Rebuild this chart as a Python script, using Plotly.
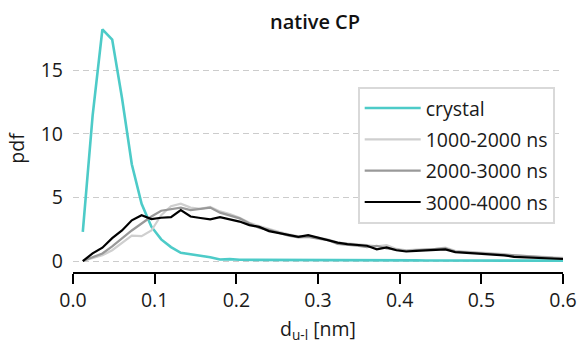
import plotly.graph_objects as go

# Bin positions of the distance histogram (nm)
d_ul = [round(0.012 * k, 3) for k in range(1, 51)]

crystal = [2.3, 11.4, 18.2, 17.4, 12.8, 7.6, 4.5, 2.7, 1.7, 1.1,
           0.65, 0.55, 0.45, 0.3, 0.12, 0.15, 0.1, 0.1, 0.09, 0.08,
           0.08, 0.08, 0.07, 0.07, 0.07, 0.06, 0.06, 0.06, 0.06, 0.05,
           0.05, 0.05, 0.05, 0.05, 0.05, 0.04, 0.04, 0.04, 0.04, 0.04,
           0.04, 0.04, 0.04, 0.03, 0.03, 0.03, 0.03, 0.03, 0.03, 0.03]

ns_1000_2000 = [0.0, 0.2, 0.45, 0.85, 1.4, 2.0, 1.95, 2.4, 3.6, 4.3,
                4.5, 4.2, 4.1, 4.25, 3.9, 3.7, 3.4, 3.0, 2.75, 2.5,
                2.3, 2.1, 1.95, 1.95, 1.8, 1.7, 1.45, 1.4, 1.3, 1.25,
                1.15, 1.25, 0.95, 0.85, 0.9, 0.9, 0.95, 1.05, 0.8, 0.75,
                0.7, 0.65, 0.65, 0.55, 0.45, 0.4, 0.35, 0.3, 0.28, 0.25]

ns_2000_3000 = [0.0, 0.3, 0.6, 1.15, 1.8, 2.4, 2.95, 3.5, 3.95, 4.1,
                4.2, 4.0, 4.1, 4.2, 3.8, 3.6, 3.35, 2.95, 2.6, 2.45,
                2.2, 2.0, 1.85, 1.9, 1.75, 1.65, 1.35, 1.3, 1.2, 1.1,
                1.2, 1.0, 0.9, 0.8, 0.85, 0.9, 0.95, 1.0, 0.75, 0.7,
                0.65, 0.6, 0.55, 0.5, 0.4, 0.35, 0.3, 0.27, 0.25, 0.22]

ns_3000_4000 = [0.0, 0.6, 1.05, 1.8, 2.4, 3.2, 3.6, 3.3, 3.4, 3.45,
                4.0, 3.5, 3.38, 3.27, 3.45, 3.3, 3.1, 2.82, 2.68, 2.35,
                2.2, 2.05, 1.9, 2.04, 1.84, 1.63, 1.45, 1.33, 1.28, 1.2,
                0.92, 1.07, 0.85, 0.75, 0.8, 0.85, 0.9, 0.92, 0.7, 0.66,
                0.6, 0.56, 0.53, 0.45, 0.33, 0.3, 0.25, 0.21, 0.18, 0.16]

series = [
    ("crystal", crystal, "#4dcbc8", 2.6),
    ("1000-2000 ns", ns_1000_2000, "#cfcfcf", 2.2),
    ("2000-3000 ns", ns_2000_3000, "#999999", 2.2),
    ("3000-4000 ns", ns_3000_4000, "#000000", 2.2),
]

x_ticks = [0.0, 0.1, 0.2, 0.3, 0.4, 0.5, 0.6]
y_ticks = [0, 5, 10, 15]

FONT = "Open Sans"
SIZE = 19.5

fig = go.Figure()
for i, (name, vals, color, width) in enumerate(series):
    fig.add_trace(go.Scatter(
        x=d_ul, y=vals, mode="lines", name=name,
        legendgroup=f"g{i}",
        line=dict(color=color, width=width),
    ))

fig.update_layout(
    width=578, height=344,
    margin=dict(l=73, r=15, t=25, b=72, autoexpand=False),
    paper_bgcolor="white", plot_bgcolor="white",
    font=dict(family=FONT, size=SIZE, color="#1a1a1a"),
    title=dict(text="native CP", x=0.545, xanchor="center",
               y=0.935, yanchor="middle",
               font=dict(family=FONT, size=20, weight=600, color="#111111")),
    showlegend=True,
    legend=dict(
        x=0.581, y=0.75, xanchor="left", yanchor="top",
        bgcolor="white", bordercolor="#d9d9d9", borderwidth=2,
        font=dict(family=FONT, size=SIZE, color="#1a1a1a"),
        tracegroupgap=3, traceorder="grouped", itemwidth=56,
    ),
)

fig.update_xaxes(
    range=[0, 0.6], tickvals=x_ticks, ticktext=[f"{v:.1f}" for v in x_ticks],
    showline=True, linecolor="black", linewidth=2,
    ticks="outside", ticklen=10, tickwidth=2, tickcolor="black",
    showgrid=False, zeroline=False, automargin=False,
    title=dict(text="d<sub>u-l</sub> [nm]", standoff=10,
               font=dict(family=FONT, size=SIZE)),
)

fig.update_yaxes(
    range=[-0.86, 18.54], tickvals=y_ticks,
    showline=False, ticks="", ticklabelstandoff=9,
    showgrid=True, gridcolor="#cccccc", gridwidth=1.2, griddash="6px,4px",
    zeroline=False, automargin=False,
    title=dict(text="pdf", standoff=10, font=dict(family=FONT, size=SIZE)),
)

fig.write_html("out.html")
